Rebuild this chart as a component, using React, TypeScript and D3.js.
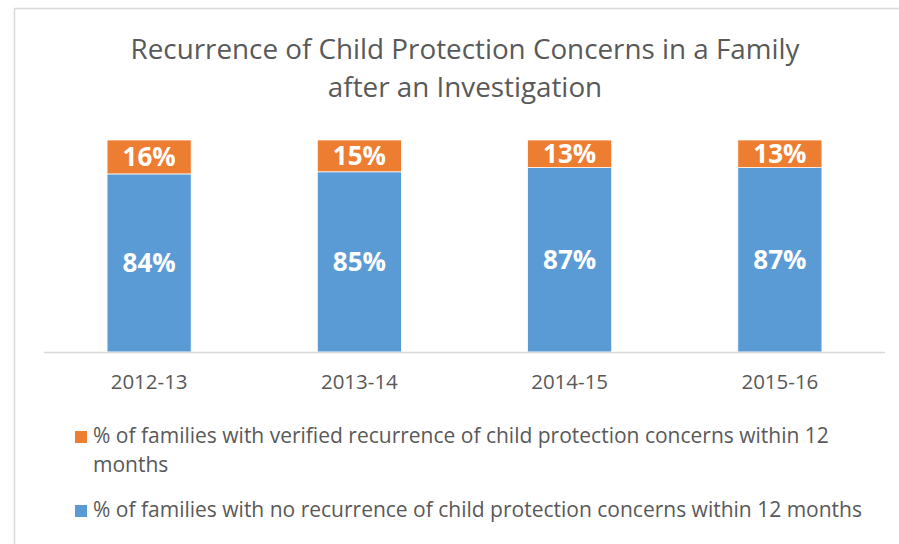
import React from "react";
import * as d3 from "d3";

const categories = ["2012-13", "2013-14", "2014-15", "2015-16"];
const noRecurrence = [84, 85, 87, 87];
const verifiedRecurrence = [16, 15, 13, 13];
const seriesNames = [
  "% of families with verified recurrence of child protection concerns within 12 months",
  "% of families with no recurrence of child protection concerns within 12 months",
];
const titleLines = ["Recurrence of Child Protection Concerns in a Family", "after an Investigation"];

const W = 899;
const H = 544;
const BLUE = "#5B9BD5";
const ORANGE = "#ED7D31";
const TEXT = "#595959";
const FONT = "'Open Sans', sans-serif";

export default function App() {
  const x = d3.scaleBand<string>().domain(categories).range([44, 885]).paddingInner(0.6).paddingOuter(0.3);
  const y = d3.scaleLinear().domain([0, 100]).range([352, 140]);
  const bw = x.bandwidth();
  return (
    <svg width={W} height={H} style={{ position: "absolute", left: 0, top: 0, fontFamily: FONT }}>
      <rect x={0} y={0} width={W} height={H} fill="#fff" />
      <line x1={14} y1={8.5} x2={W} y2={8.5} stroke="#d9d9d9" strokeWidth={1.5} />
      <line x1={14.5} y1={8} x2={14.5} y2={H} stroke="#d9d9d9" strokeWidth={1.5} />
      {titleLines.map((t, i) => (
        <text key={i} x={465} y={59 + i * 38} textAnchor="middle" fontSize={27.8} fill={TEXT}>
          {t}
        </text>
      ))}
      {categories.map((c, i) => {
        const x0 = x(c)!;
        const yb = y(noRecurrence[i]);
        const yt = y(noRecurrence[i] + verifiedRecurrence[i]);
        return (
          <g key={c}>
            <rect x={x0} y={yb} width={bw} height={y(0) - yb} fill={BLUE} stroke="#fff" strokeWidth={0.75} />
            <rect x={x0} y={yt} width={bw} height={yb - yt} fill={ORANGE} stroke="#fff" strokeWidth={0.75} />
            <text x={x0 + bw / 2} y={(yb + y(0)) / 2 + 9} textAnchor="middle" fontSize={26} fontWeight="bold" fill="#fff">
              {noRecurrence[i]}%
            </text>
            <text x={x0 + bw / 2} y={(yt + yb) / 2 + 9} textAnchor="middle" fontSize={26} fontWeight="bold" fill="#fff">
              {verifiedRecurrence[i]}%
            </text>
            <text x={x0 + bw / 2} y={389} textAnchor="middle" fontSize={20.5} fill={TEXT}>
              {c}
            </text>
          </g>
        );
      })}
      <line x1={44} y1={352.5} x2={885} y2={352.5} stroke="#d9d9d9" strokeWidth={1.5} />
      <rect x={75} y={431} width={12} height={12} fill={ORANGE} />
      <text x={93} y={443} fontSize={21} fill={TEXT}>
        {seriesNames[0].replace(" months", "")}
      </text>
      <text x={93} y={472} fontSize={21} fill={TEXT}>months</text>
      <rect x={75} y={505} width={12} height={12} fill={BLUE} />
      <text x={93} y={517} fontSize={21} fill={TEXT}>
        {seriesNames[1]}
      </text>
    </svg>
  );
}
